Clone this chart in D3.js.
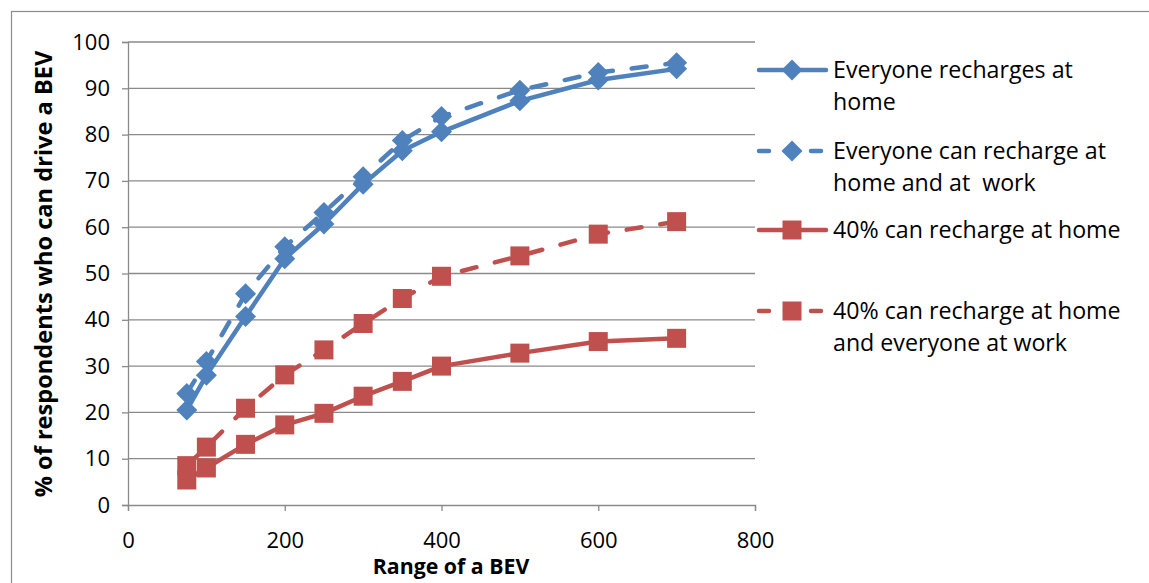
<!DOCTYPE html>
<html>
<head>
<meta charset="utf-8">
<script src="https://cdn.jsdelivr.net/npm/d3@7"></script>
<style>
  html, body { margin: 0; padding: 0; background: #fff; }
  svg { display: block; }
  text { font-family: "Open Sans", Lato, sans-serif; fill: #000; }
</style>
</head>
<body>
<svg id="chart" width="1149" height="583"></svg>
<script>
// Range of a BEV (x values)
const ranges = [75, 100, 150, 200, 250, 300, 350, 400, 500, 600, 700];

// % of respondents who can drive a BEV, per scenario
const everyoneHome      = [20.5, 28.0, 40.7, 53.2, 60.7, 69.3, 76.5, 80.6, 87.3, 91.8, 94.2];
const everyoneHomeWork  = [24.1, 31.0, 45.6, 55.8, 63.2, 70.9, 78.7, 83.9, 89.6, 93.4, 95.5];
const fortyHome         = [5.4, 8.0, 13.1, 17.3, 19.8, 23.5, 26.7, 30.0, 32.8, 35.3, 36.0];
const fortyHomeAllWork  = [8.5, 12.5, 20.9, 28.1, 33.5, 39.2, 44.6, 49.4, 53.8, 58.5, 61.2];

const seriesNames = [
  ["Everyone recharges at", "home"],
  ["Everyone can recharge at", "home and at  work"],
  ["40% can recharge at home"],
  ["40% can recharge at home", "and everyone at work"]
];

const xTicks = [0, 200, 400, 600, 800];
const yTicks = [0, 10, 20, 30, 40, 50, 60, 70, 80, 90, 100];

const blue = "#4F81BD";
const red = "#C0504D";
const gridColor = "#8a8a8a";
const fontFamily = "'Open Sans', Lato, sans-serif";

const series = [
  { name: seriesNames[0], values: everyoneHome,     color: blue, dashed: false, marker: "diamond" },
  { name: seriesNames[1], values: everyoneHomeWork, color: blue, dashed: true,  marker: "diamond" },
  { name: seriesNames[2], values: fortyHome,        color: red,  dashed: false, marker: "square" },
  { name: seriesNames[3], values: fortyHomeAllWork, color: red,  dashed: true,  marker: "square" }
];

const svg = d3.select("#chart");

// outer chart frame
svg.append("rect")
  .attr("x", 11.5).attr("y", 11.5)
  .attr("width", 1160).attr("height", 600)
  .attr("fill", "none").attr("stroke", "#8c8c8c").attr("stroke-width", 1.2);

const plot = { left: 128, right: 755, top: 42, bottom: 505 };

const x = d3.scaleLinear().domain([0, 800]).range([plot.left, plot.right]);
const y = d3.scaleLinear().domain([0, 100]).range([plot.bottom, plot.top]);

// horizontal gridlines
svg.append("g")
  .selectAll("line")
  .data(yTicks.filter(d => d > 0))
  .join("line")
  .attr("x1", plot.left).attr("x2", plot.right)
  .attr("y1", d => y(d)).attr("y2", d => y(d))
  .attr("stroke", gridColor).attr("stroke-width", 1.3);

// y axis
const yAxis = svg.append("g")
  .attr("transform", `translate(${plot.left},0)`)
  .call(d3.axisLeft(y).tickValues(yTicks).tickSize(6).tickPadding(12).tickFormat(d3.format("d")));
yAxis.select(".domain").attr("stroke", gridColor).attr("stroke-width", 1.3);
yAxis.selectAll(".tick line").attr("stroke", gridColor).attr("stroke-width", 1.3);
yAxis.selectAll(".tick text")
  .attr("font-size", 22).attr("font-family", fontFamily).attr("fill", "#000");

// x axis
const xAxis = svg.append("g")
  .attr("transform", `translate(0,${plot.bottom})`)
  .call(d3.axisBottom(x).tickValues(xTicks).tickSize(6).tickPadding(21).tickFormat(d3.format("d")));
xAxis.select(".domain").attr("stroke", gridColor).attr("stroke-width", 1.3);
xAxis.selectAll(".tick line").attr("stroke", gridColor).attr("stroke-width", 1.3);
xAxis.selectAll(".tick text")
  .attr("font-size", 22).attr("font-family", fontFamily).attr("fill", "#000");

// axis titles
svg.append("text")
  .attr("x", 451).attr("y", 574)
  .attr("text-anchor", "middle")
  .attr("font-size", 21.3).attr("font-weight", "bold")
  .text("Range of a BEV");

svg.append("text")
  .attr("transform", `translate(52,274) rotate(-90)`)
  .attr("text-anchor", "middle")
  .attr("font-size", 23.6).attr("font-weight", "bold")
  .text("% of respondents who can drive a BEV");

const lineGen = d3.line()
  .x((d, i) => x(ranges[i]))
  .y(d => y(d));

const dashPattern = "15,19";

function drawMarker(g, type, cx, cy, color) {
  if (type === "diamond") {
    const r = 10.5;
    g.append("path")
      .attr("d", `M${cx},${cy - r}L${cx + r},${cy}L${cx},${cy + r}L${cx - r},${cy}Z`)
      .attr("fill", color);
  } else {
    const s = 19;
    g.append("rect")
      .attr("x", cx - s / 2).attr("y", cy - s / 2)
      .attr("width", s).attr("height", s)
      .attr("fill", color);
  }
}

// lines, then markers on top
const linesG = svg.append("g");
series.forEach(s => {
  linesG.append("path")
    .datum(s.values)
    .attr("d", lineGen)
    .attr("fill", "none")
    .attr("stroke", s.color)
    .attr("stroke-width", 4.5)
    .attr("stroke-linecap", "round")
    .attr("stroke-linejoin", "round")
    .attr("stroke-dasharray", s.dashed ? dashPattern : null);
});
series.forEach(s => {
  const mg = linesG.append("g");
  s.values.forEach((v, i) => drawMarker(mg, s.marker, x(ranges[i]), y(v), s.color));
});

// legend
const legendRows = [70, 151, 230, 311];
const legend = svg.append("g");
series.forEach((s, i) => {
  const ly = legendRows[i];
  legend.append("line")
    .attr("x1", 759).attr("x2", 826)
    .attr("y1", ly).attr("y2", ly)
    .attr("stroke", s.color).attr("stroke-width", 4.5)
    .attr("stroke-linecap", "round")
    .attr("stroke-dasharray", s.dashed ? "10,16" : null);
  drawMarker(legend, s.marker, 792, ly, s.color);
  const t = legend.append("text")
    .attr("x", 833).attr("y", ly + 7.5)
    .attr("font-size", 23.2);
  s.name.forEach((line, k) => {
    t.append("tspan").attr("x", 833).attr("dy", k === 0 ? 0 : 32)
      .style("white-space", "pre").text(line);
  });
});
</script>
</body>
</html>
